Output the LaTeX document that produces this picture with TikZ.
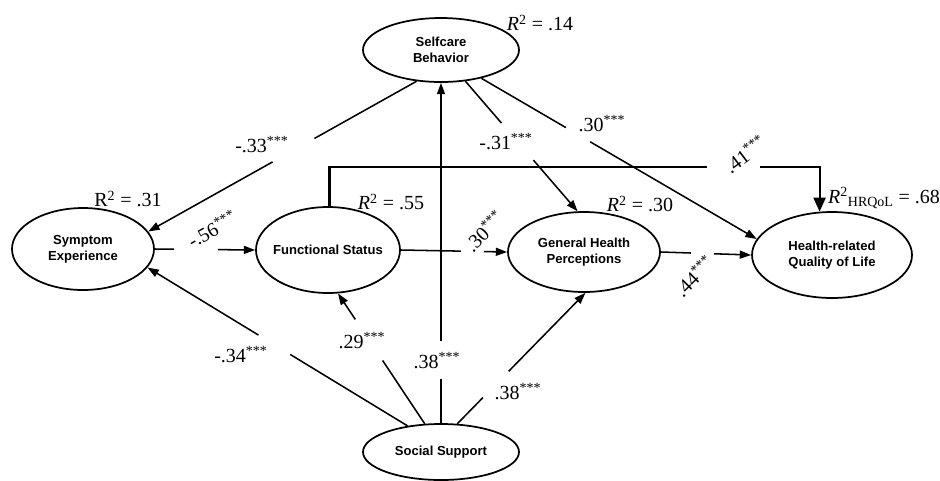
\documentclass[tikz,border=0pt]{standalone}
\usepackage{fontspec}
\setmainfont{Liberation Serif}
\setsansfont{Liberation Sans}
\usetikzlibrary{arrows.meta, shapes.geometric}
\newcommand{\sig}{\textsuperscript{***}}

\begin{document}
\begin{tikzpicture}[
  x=0.75pt, y=-0.75pt,
  font=\fontsize{15}{17}\selectfont,
  latent/.style={ellipse, draw=black, line width=1.3pt, inner sep=0pt, align=center,
                 font=\sffamily\bfseries\fontsize{9.8}{12}\selectfont},
  coef/.style={inner sep=1pt},
  wire/.style={line width=1.15pt, color=black},
  arr/.style={wire, -{Triangle[length=8.5pt, width=6pt]}},
  bigarr/.style={wire, line width=1.6pt, -{Triangle[length=10.5pt, width=9pt]}}
]
\useasboundingbox (0,0) rectangle (940,480);

% latent variables
\node[latent, minimum width=117pt, minimum height=48pt] (self) at (441,50) {Selfcare\\Behavior};
\node[latent, minimum width=106.5pt, minimum height=61.5pt] (symp) at (83,249) {Symptom\\Experience};
\node[latent, minimum width=108pt, minimum height=64.5pt, inner xsep=-10pt] (func) at (328,250) {Functional Status};
\node[latent, minimum width=114pt, minimum height=60pt] (gen) at (584,252) {General Health\\Perceptions};
\node[latent, minimum width=120pt, minimum height=64.5pt] (hrq) at (832,255) {Health-related\\Quality of Life};
\node[latent, minimum width=117pt, minimum height=42pt] (soc) at (441,452) {Social Support};

% paths
\draw[arr, dash pattern=on 87.8pt off 36pt on 400pt] (self.232) -- (symp.15);
\draw[arr, dash pattern=on 33pt off 28.5pt on 400pt] (soc.north) -- (self.south);
\draw[arr, dash pattern=on 41.4pt off 36.7pt on 400pt] (self.308) -- (gen.99);
\draw[arr, dash pattern=on 73.4pt off 21.1pt on 400pt] (self.325) -- (hrq.168);
\draw[bigarr, dash pattern=on 312.4pt off 39.8pt on 400pt] (func.88) -- ++(0,-39) -| (hrq.106);
\draw[arr, dash pattern=on 14.3pt off 33pt on 400pt] (symp.east) -- (func.west);
\draw[arr, dash pattern=on 45pt off 17.3pt on 400pt] (func.east) -- (gen.west);
\draw[arr, dash pattern=on 22.5pt off 17.3pt on 400pt] (gen.east) -- (hrq.west);
\draw[arr, dash pattern=on 103pt off 27.9pt on 400pt] (soc.142) -- (symp.344);
\draw[arr, dash pattern=on 57pt off 37pt on 400pt] (soc.120) -- (func.283);
\draw[arr, dash pattern=on 27.5pt off 27.6pt on 400pt] (soc.60) -- (gen.272);

% coefficients
\node[coef] (c-self-symp) at (262,145) {-.33\sig};
\node[coef, rotate=29] (c-symp-func) at (212,229) {-.56\sig};
\node[coef] (c-soc-self) at (437,361) {.38\sig};
\node[coef] (c-self-gen) at (506,142) {-.31\sig};
\node[coef] (c-self-hrq) at (602,124) {.30\sig};
\node[coef, rotate=37] (c-func-hrq) at (745,154) {.41\sig};
\node[coef, rotate=45] (c-func-gen) at (484,231) {.30\sig};
\node[coef, rotate=45] (c-gen-hrq) at (694,276) {.44\sig};
\node[coef] (c-soc-symp) at (241,355) {-.34\sig};
\node[coef] (c-soc-func) at (362,341) {.29\sig};
\node[coef] (c-soc-gen) at (518,392) {.38\sig};

% explained variance
\node (r-self) at (540,23) {\textit{R}\textsuperscript{2} = .14};
\node (r-symp) at (128,199) {R\textsuperscript{2} = .31};
\node (r-func) at (391,202) {\textit{R}\textsuperscript{2} = .55};
\node (r-gen) at (640,204) {\textit{R}\textsuperscript{2} = .30};
\node (r-hrq) at (884,198) {\textit{R}\textsuperscript{2}\textsubscript{HRQoL} = .68};
\end{tikzpicture}
\end{document}
